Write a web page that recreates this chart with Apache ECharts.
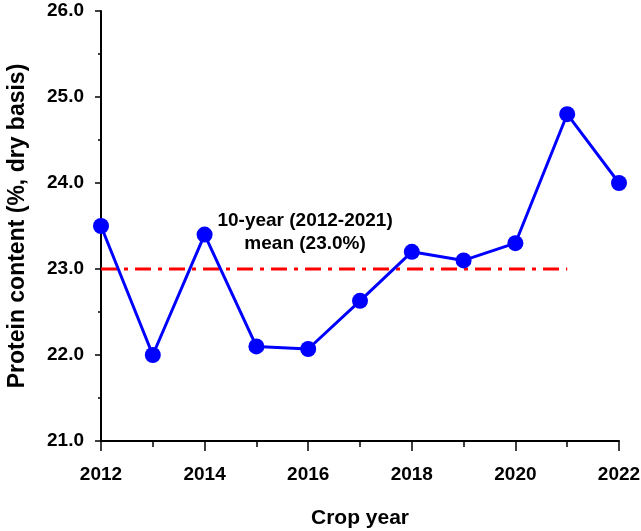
<!DOCTYPE html>
<html>
<head>
<meta charset="utf-8">
<script src="https://cdn.jsdelivr.net/npm/echarts@6/dist/echarts.min.js"></script>
<style>
  html, body { margin: 0; padding: 0; background: #fff; }
  #main { width: 641px; height: 531px; }
</style>
</head>
<body>
<div id="main"></div>
<script>
// crop year vs protein content
const years = [2012, 2013, 2014, 2015, 2016, 2017, 2018, 2019, 2020, 2021, 2022];
const protein = [23.5, 22.0, 23.4, 22.1, 22.07, 22.63, 23.2, 23.1, 23.3, 24.8, 24.0];
const meanYears = [2012, 2021];
const meanValue = 23.0;
const noteLines = ['10-year (2012-2021)', 'mean (23.0%)'];

const font = 'Liberation Sans, Arial, sans-serif';
const myChart = echarts.init(document.getElementById('main'));

let option = {
    animation: false,
    grid: { left: 101, right: 22, top: 11, bottom: 90, outerBoundsMode: 'none', containLabel: false },
    xAxis: {
        type: 'value',
        min: 2012, max: 2022, interval: 2,
        name: 'Crop year',
        nameLocation: 'middle',
        nameGap: 67,
        nameTextStyle: { fontFamily: font, fontWeight: 'bold', fontSize: 21, color: '#000' },
        axisLine: { lineStyle: { color: '#000', width: 2 } },
        axisTick: { inside: false, length: 10, lineStyle: { color: '#000', width: 1.5 } },
        minorTick: { show: true, splitNumber: 2, length: 6, lineStyle: { color: '#000', width: 1.5 } },
        splitLine: { show: false },
        axisLabel: { margin: 24, fontFamily: font, fontWeight: 'bold', fontSize: 19, color: '#000', formatter: v => String(v) }
    },
    yAxis: {
        type: 'value',
        min: 21, max: 26, interval: 1,
        name: 'Protein content (%, dry basis)',
        nameLocation: 'middle',
        nameGap: 72,
        nameTextStyle: { fontFamily: font, fontWeight: 'bold', fontSize: 23, color: '#000' },
        axisLine: { show: true, lineStyle: { color: '#000', width: 2 } },
        axisTick: { show: true, inside: false, length: 6, lineStyle: { color: '#000', width: 1.5 } },
        minorTick: { show: true, splitNumber: 2, length: 3, lineStyle: { color: '#000', width: 1.5 } },
        splitLine: { show: false },
        axisLabel: { margin: 17, fontFamily: font, fontWeight: 'bold', fontSize: 19, color: '#000', formatter: v => v.toFixed(1) }
    },
    series: [
        {
            type: 'line',
            data: meanYears.map(y => [y, meanValue]),
            showSymbol: false,
            lineStyle: { color: '#ff0000', width: 3, type: [16, 7, 4, 7] },
            z: 1
        },
        {
            type: 'line',
            data: years.map((y, i) => [y, protein[i]]),
            symbol: 'circle',
            symbolSize: 16,
            itemStyle: { color: '#0000ff' },
            lineStyle: { color: '#0000ff', width: 3 },
            z: 2
        }
    ]
};
myChart.setOption(option);

// note above the mean line
const pos = myChart.convertToPixel({ gridIndex: 0 }, [2015.94, 23.43]);
myChart.setOption({
    graphic: [{
        type: 'text',
        x: pos[0], y: pos[1],
        style: {
            text: noteLines.join('\n'),
            fontFamily: font, fontWeight: 'bold', fontSize: 19,
            fill: '#000', align: 'center', verticalAlign: 'middle', lineHeight: 23
        }
    }]
});
</script>
</body>
</html>
